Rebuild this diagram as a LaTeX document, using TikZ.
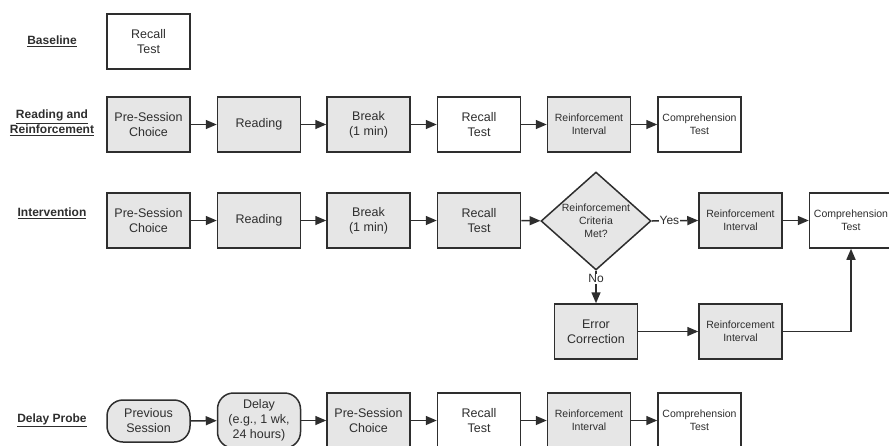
\documentclass[tikz,border=0pt]{standalone}
\usepackage{fontspec}
\setmainfont{Liberation Sans}
\usetikzlibrary{arrows.meta,shapes.geometric}
\definecolor{ink}{HTML}{2E2E2E}
\definecolor{shade}{HTML}{E6E6E6}
\begin{document}
\begin{tikzpicture}[x=1pt,y=-1pt,
  every node/.style={text=ink},
  box/.style={draw=ink,line width=1.5pt,fill=white,minimum width=83pt,minimum height=55pt,
    align=center,inner sep=1pt,font=\fontsize{12.5}{15}\selectfont},
  gbox/.style={box,fill=shade},
  sbox/.style={box,font=\fontsize{10.5}{13}\selectfont},
  gsbox/.style={sbox,fill=shade},
  term/.style={gbox,rounded corners=16pt},
  ask/.style={draw=ink,line width=1.5pt,fill=shade,diamond,aspect=1.12,minimum width=110pt,
    minimum height=98pt,inner sep=0pt,align=center,font=\fontsize{10.5}{13}\selectfont},
  phase/.style={align=center,font=\fontsize{12}{15}\selectfont\bfseries},
  arr/.style={draw=ink,line width=1.5pt,-{Triangle[length=11pt,width=9pt]}},
  tag/.style={fill=white,inner sep=1pt,font=\fontsize{12}{14}\selectfont}]
  \useasboundingbox (0,0) rectangle (889,445);
  % phase labels
  \node[phase] (lbase) at (52,41) {\underline{Baseline}};
  \node[phase] (lread) at (52,123) {\underline{Reading and}\\\underline{Reinforcement}};
  \node[phase] (lint) at (52,213) {\underline{Intervention}};
  \node[phase] (ldel) at (52,420) {\underline{Delay Probe}};
  % baseline
  \node[box] (b1) at (148.5,41.5) {Recall\\Test};
  % reading and reinforcement
  \node[gbox] (r1) at (148.5,124.5) {Pre-Session\\Choice};
  \node[gbox] (r2) at (259,124.5) {Reading};
  \node[gbox] (r3) at (368.5,124.5) {Break\\(1 min)};
  \node[box] (r4) at (479,124.5) {Recall\\Test};
  \node[gsbox] (r5) at (589,124.5) {Reinforcement\\Interval};
  \node[sbox] (r6) at (699.5,124.5) {Comprehension\\Test};
  \foreach \a/\b in {r1/r2,r2/r3,r3/r4,r4/r5,r5/r6}
    \draw[arr] (\a) -- (\b);
  % intervention
  \node[gbox] (i1) at (148.5,220.5) {Pre-Session\\Choice};
  \node[gbox] (i2) at (259,220.5) {Reading};
  \node[gbox] (i3) at (368.5,220.5) {Break\\(1 min)};
  \node[gbox] (i4) at (479,220.5) {Recall\\Test};
  \node[ask] (i5) at (596,221) {Reinforcement\\Criteria\\Met?};
  \node[gsbox] (i6) at (740.5,220.5) {Reinforcement\\Interval};
  \node[sbox] (i7) at (851,220.5) {Comprehension\\Test};
  \node[gbox] (e1) at (596,331.5) {Error\\Correction};
  \node[gsbox] (e2) at (740.5,331.5) {Reinforcement\\Interval};
  \foreach \a/\b in {i1/i2,i2/i3,i3/i4,i4/i5,i6/i7,e1/e2}
    \draw[arr] (\a) -- (\b);
  \draw[arr] (i5.east) -- node[tag,pos=0.38] {Yes} (i6.west);
  \draw[arr] (i5.south) -- node[tag,pos=0.25] {No} (e1.north);
  \draw[arr] (e2.east) -| (i7.south);
  % delay probe
  \node[term,minimum height=42pt] (d1) at (148.5,421) {Previous\\Session};
  \node[term] (d2) at (259,420.5) {Delay\\(e.g., 1 wk,\\24 hours)};
  \node[gbox] (d3) at (368.5,420.5) {Pre-Session\\Choice};
  \node[box] (d4) at (479,420.5) {Recall\\Test};
  \node[gsbox] (d5) at (589,420.5) {Reinforcement\\Interval};
  \node[sbox] (d6) at (699.5,420.5) {Comprehension\\Test};
  \foreach \a/\b in {d1/d2,d2/d3,d3/d4,d4/d5,d5/d6}
    \draw[arr] (\a) -- (\b);
\end{tikzpicture}
\end{document}
